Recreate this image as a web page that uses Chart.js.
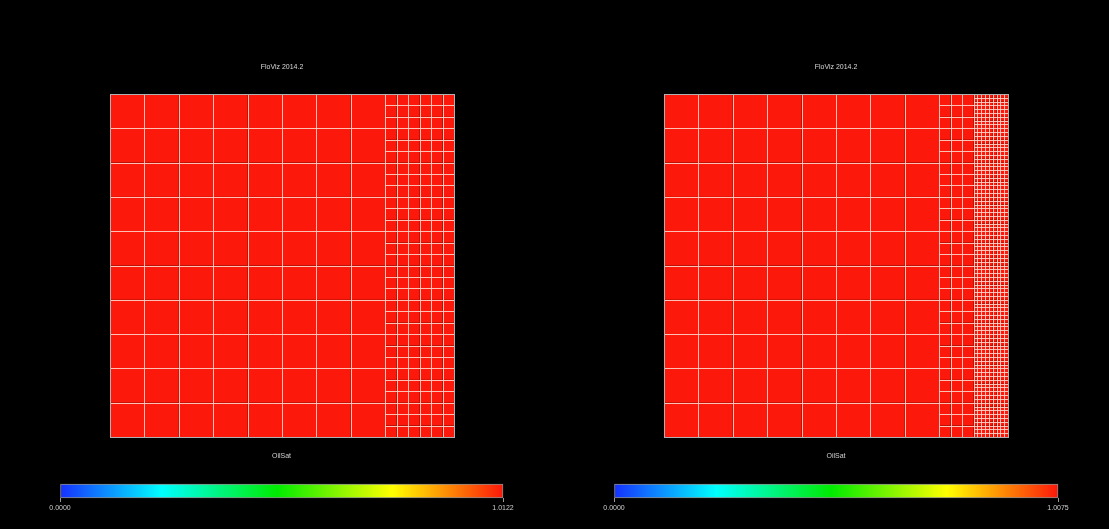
<!DOCTYPE html>
<html>
<head>
<meta charset="utf-8">
<title>FloViz 2014.2 – OilSat</title>
<script src="https://cdn.jsdelivr.net/npm/chart.js@4/dist/chart.umd.min.js"></script>
<style>
  html, body { margin: 0; padding: 0; background: #000; }
  body { width: 1109px; height: 529px; position: relative; overflow: hidden; }
  canvas { position: absolute; display: block; }
</style>
</head>
<body>
<canvas id="gridLeft"  width="554" height="440" style="left:0;top:0"></canvas>
<canvas id="gridRight" width="555" height="440" style="left:554px;top:0"></canvas>
<canvas id="barLeft"   width="554" height="84"  style="left:0;top:445px"></canvas>
<canvas id="barRight"  width="555" height="84"  style="left:554px;top:445px"></canvas>
<script>
// ---- mesh and property data ----
const panelTitle = 'FloViz 2014.2';
const propertyName = 'OilSat';
const coarseCols = 10;
const coarseRows = 10;
// local grid refinement factor of each coarse column (i direction), same in j
const refineLeft  = [1, 1, 1, 1, 1, 1, 1, 1, 3, 3];
const refineRight = [1, 1, 1, 1, 1, 1, 1, 1, 3, 9];
// oil saturation per coarse column
const oilSatLeft  = [1.0122, 1.0122, 1.0122, 1.0122, 1.0122, 1.0122, 1.0122, 1.0122, 1.0122, 1.0122];
const oilSatRight = [1.0075, 1.0075, 1.0075, 1.0075, 1.0075, 1.0075, 1.0075, 1.0075, 1.0075, 1.0075];
// colour bar range and tick labels
const rangeLeft  = [0, 1.0122];
const rangeRight = [0, 1.0075];
const tickLabelsLeft  = ['0.0000', '1.0122'];
const tickLabelsRight = ['0.0000', '1.0075'];

// rainbow colour map used by the viewer
const cmapStops = [
  [0.00, [22, 48, 255]],
  [0.23, [0, 255, 255]],
  [0.49, [0, 235, 0]],
  [0.75, [255, 255, 0]],
  [1.00, [252, 24, 10]]
];
function cmap(t) {
  t = Math.max(0, Math.min(1, t));
  for (let k = 1; k < cmapStops.length; k++) {
    const [t1, c1] = cmapStops[k];
    const [t0, c0] = cmapStops[k - 1];
    if (t <= t1) {
      const f = (t - t0) / (t1 - t0);
      const c = c0.map((v, i) => Math.round(v + (c1[i] - v) * f));
      return `rgb(${c[0]},${c[1]},${c[2]})`;
    }
  }
  const c = cmapStops[cmapStops.length - 1][1];
  return `rgb(${c[0]},${c[1]},${c[2]})`;
}

// build the refined cell list: each cell spans [x0,x1]x[y0,y1] in coarse units
function buildCells(refine, values) {
  const cells = [];
  refine.forEach((r, c) => {
    for (let i = 0; i < r; i++) {
      for (let j = 0; j < coarseRows * r; j++) {
        cells.push({
          x: c + (i + 0.5) / r, y: (j + 0.5) / r,
          x0: c + i / r, x1: c + (i + 1) / r,
          y0: j / r, y1: (j + 1) / r,
          v: values[c]
        });
      }
    }
  });
  return cells;
}

// draws the mesh cells through the chart's x/y scales
const meshPlugin = {
  id: 'mesh',
  beforeDatasetsDraw(chart) {
    const { ctx, scales: { x, y } } = chart;
    const ds = chart.data.datasets[0];
    const vmax = ds.range[1], vmin = ds.range[0];
    ctx.save();
    ds.data.forEach(cell => {
      const px0 = x.getPixelForValue(cell.x0), px1 = x.getPixelForValue(cell.x1);
      const py0 = y.getPixelForValue(cell.y1), py1 = y.getPixelForValue(cell.y0);
      ctx.fillStyle = cmap((cell.v - vmin) / (vmax - vmin));
      ctx.fillRect(px0, py0, px1 - px0, py1 - py0);
    });
    ctx.strokeStyle = 'rgba(255,205,195,0.72)';
    ctx.lineWidth = 1;
    ds.data.forEach(cell => {
      const px0 = x.getPixelForValue(cell.x0), px1 = x.getPixelForValue(cell.x1);
      const py0 = y.getPixelForValue(cell.y1), py1 = y.getPixelForValue(cell.y0);
      ctx.strokeRect(Math.round(px0) + 0.5, Math.round(py0) + 0.5,
                     Math.round(px1) - Math.round(px0), Math.round(py1) - Math.round(py0));
    });
    // outer boundary
    const bx0 = Math.round(x.getPixelForValue(0)) + 0.5, bx1 = Math.round(x.getPixelForValue(coarseCols)) + 0.5;
    const by0 = Math.round(y.getPixelForValue(coarseRows)) + 0.5, by1 = Math.round(y.getPixelForValue(0)) + 0.5;
    ctx.strokeStyle = '#b0b0b0';
    ctx.strokeRect(bx0, by0, bx1 - bx0, by1 - by0);
    ctx.restore();
  }
};

const textFont = { family: '"Liberation Sans", Arial, Helvetica, sans-serif', size: 7, weight: 'normal' };

function makeMesh(canvasId, refine, values, range, padRight) {
  return new Chart(document.getElementById(canvasId), {
    type: 'scatter',
    data: {
      datasets: [{
        data: buildCells(refine, values),
        range: range,
        pointRadius: 0,
        pointHoverRadius: 0
      }]
    },
    options: {
      responsive: false,
      animation: false,
      devicePixelRatio: 1,
      layout: { padding: { left: 110, right: padRight, top: 0, bottom: 3 } },
      scales: {
        x: { type: 'linear', min: 0, max: coarseCols, display: false },
        y: { type: 'linear', min: 0, max: coarseRows, display: false }
      },
      plugins: {
        legend: { display: false },
        tooltip: { enabled: false },
        title: {
          display: true,
          text: panelTitle,
          color: '#d8d8d8',
          font: textFont,
          padding: { top: 62.8, bottom: 22.8 }
        }
      }
    },
    plugins: [meshPlugin]
  });
}

function makeColorBar(canvasId, range, tickLabels, padRight) {
  return new Chart(document.getElementById(canvasId), {
    type: 'bar',
    data: {
      labels: [propertyName],
      datasets: [{
        data: [[range[0], range[1]]],
        backgroundColor(ctx) {
          const area = ctx.chart.chartArea;
          if (!area) return cmap(1);
          const g = ctx.chart.ctx.createLinearGradient(area.left, 0, area.right, 0);
          cmapStops.forEach(([t, c]) => g.addColorStop(t, `rgb(${c[0]},${c[1]},${c[2]})`));
          return g;
        },
        borderColor: '#8a8a8a',
        borderWidth: 1,
        borderSkipped: false,
        barPercentage: 1,
        categoryPercentage: 1,
        clip: false
      }]
    },
    options: {
      indexAxis: 'y',
      responsive: false,
      animation: false,
      devicePixelRatio: 1,
      layout: { padding: { left: 60, right: padRight, top: 0, bottom: 11 } },
      scales: {
        x: {
          type: 'linear',
          min: range[0],
          max: range[1],
          afterBuildTicks(s) { s.ticks = range.map(v => ({ value: v })); },
          afterFit(s) { s.height = 20; },
          ticks: {
            autoSkip: false,
            maxRotation: 0,
            padding: 2,
            color: '#cfcfcf',
            font: textFont,
            callback(v, i) { return tickLabels[i]; }
          },
          grid: { drawOnChartArea: false, drawTicks: true, tickLength: 4, color: '#9a9a9a' },
          border: { display: false }
        },
        y: { display: false }
      },
      plugins: {
        legend: { display: false },
        tooltip: { enabled: false },
        title: {
          display: true,
          text: propertyName,
          color: '#cfcfcf',
          font: textFont,
          padding: { top: 6.8, bottom: 23.8 }
        }
      }
    }
  });
}

makeMesh('gridLeft', refineLeft, oilSatLeft, rangeLeft, 100);
makeMesh('gridRight', refineRight, oilSatRight, rangeRight, 101);
makeColorBar('barLeft', rangeLeft, tickLabelsLeft, 51);
makeColorBar('barRight', rangeRight, tickLabelsRight, 51);
</script>
</body>
</html>
